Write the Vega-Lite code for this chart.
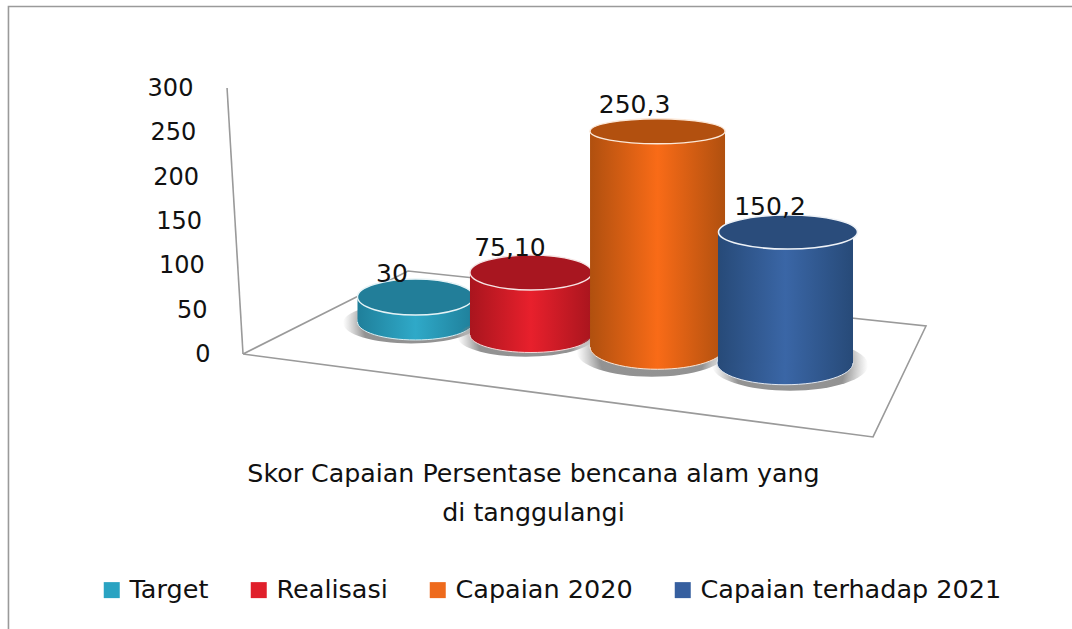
{
"$schema":"https://vega.github.io/schema/vega-lite/v6.json",
"width":1072,"height":629,"padding":0,"autosize":{"type":"none"},
"background":"white",
"config":{"view":{"stroke":null},"font":"DejaVu Sans"},
"datasets":{
"main":[
{"series":"Target","value":30,"label":"30"},
{"series":"Realisasi","value":75.1,"label":"75,10"},
{"series":"Capaian 2020","value":250.3,"label":"250,3"},
{"series":"Capaian terhadap 2021","value":150.2,"label":"150,2"}],
"frame":[
{"part":"border","across":0.79,"level":-307.9,"order":1},
{"part":"border","across":0.79,"level":391.6,"order":2},
{"part":"border","across":100,"level":391.6,"order":3},
{"part":"wall","across":21.18,"level":300,"order":1},
{"part":"wall","across":22.67,"level":1.1,"order":2},
{"part":"floor","across":22.67,"level":1.1,"order":1},
{"part":"floor","across":38.06,"level":94.4,"order":2},
{"part":"floor","across":86.38,"level":32.6,"order":3},
{"part":"floor","across":81.44,"level":-92.1,"order":4},
{"part":"floor","across":22.67,"level":1.1,"order":5}]
},
"resolve":{"scale":{"x":"independent"}},
"encoding":{
"x":{"field":"series","type":"nominal","sort":null,
"scale":{"type":"point","padding":0,"domain":["Target","Realisasi","Capaian 2020","Capaian terhadap 2021"],"range":[415.5,788]},
"axis":null},
"y":{"field":"value","type":"quantitative",
"scale":{"domain":[-307.9,398.9],"nice":false,"zero":false},
"axis":{"title":null,"domain":false,"ticks":false,"grid":false,"offset":-215,"values":[0,50,100,150,200,250,300],"labelFont":"DejaVu Sans","labelFontSize":24,"labelColor":"#111111","labelOverlap":false,"labelFlush":false,"labelBaseline":"middle","labelPadding":{"expr":"5+datum.value*0.057"}}}
},
"layer":[
{"data":{"name":"frame"},"mark":{"type":"line","color":"#9a9a9a","strokeWidth":1.6,"interpolate":"linear"},
"encoding":{"x":{"field":"across","type":"quantitative","scale":{"domain":[0,100],"nice":false,"zero":false},"axis":null},
"y":{"field":"level","type":"quantitative"},"detail":{"field":"part"},"order":{"field":"order","type":"quantitative"}}},
{"data":{"name":"main"},"mark":{"type":"point","shape":"square","filled":true,"size":1},
"encoding":{
"x":{"field":"series","type":"nominal","sort":null,
"scale":{"type":"point","padding":0,"domain":["Target","Realisasi","Capaian 2020","Capaian terhadap 2021"],"range":[415.5,788]},
"axis":{"domain":false,"ticks":false,"labels":false,"grid":false,
"title":["Skor Capaian Persentase bencana alam yang","di tanggulangi"],
"titleFont":"DejaVu Sans","titleFontSize":25.3,"titleFontWeight":"normal","titleColor":"#111111","titleLineHeight":39,"titleX":533,"titleY":-148,"titleAlign":"center","titleBaseline":"alphabetic","titleAnchor":null}},
"color":{"field":"series","type":"nominal","sort":null,
"scale":{"domain":["Target","Realisasi","Capaian 2020","Capaian terhadap 2021"],"range":["#2aa3c2","#e01f2b","#ee6a1c","#365f9f"]},
"legend":{"orient":"none","legendX":99,"legendY":577,"direction":"horizontal","columns":4,"title":null,"symbolType":"square","symbolSize":256,"symbolStrokeWidth":0,"symbolOpacity":1,"labelFont":"DejaVu Sans","labelFontSize":25.5,"labelColor":"#111111","labelOffset":5,"columnPadding":37,"labelLimit":400,"padding":0}}}},

{"data":{"name":"main"},"transform":[{"filter":"datum.series=='Target'"}],"layer":[
{"mark":{"type":"point","filled":true,"opacity":1,"shape":"M-1,0A1,0.3 0 1 0 1,0A1,0.3 0 1 0 -1,0Z","size":18496,"xOffset":-4.5,"yOffset":-32,"fill":{"gradient":"radial","stops":[{"offset":0,"color":"rgba(110,110,110,0.75)"},{"offset":0.7,"color":"rgba(110,110,110,0.75)"},{"offset":1,"color":"rgba(140,140,140,0)"}]}},"encoding":{"y":{"datum":0,"type":"quantitative"}}},
{"mark":{"type":"point","filled":true,"opacity":1,"shape":"M-1,0A1,0.31 0 1 0 1,0A1,0.31 0 1 0 -1,0Z","size":13456,"yOffset":-33,"stroke":"#d8eef3","strokeWidth":1,"fill":{"gradient":"linear","x1":0,"x2":1,"y1":0,"y2":0,"stops":[{"offset":0,"color":"#1f7f9a"},{"offset":0.5,"color":"#2fa9c8"},{"offset":1,"color":"#1f7f9a"}]}},"encoding":{"y":{"datum":0,"type":"quantitative"}}},
{"mark":{"type":"bar","size":116,"yOffset":-31.3,"y2Offset":-33,"fill":{"gradient":"linear","x1":0,"x2":1,"y1":0,"y2":0,"stops":[{"offset":0,"color":"#1f7f9a"},{"offset":0.5,"color":"#2fa9c8"},{"offset":1,"color":"#1f7f9a"}]}},"encoding":{"y2":{"datum":0}}},
{"mark":{"type":"point","filled":true,"opacity":1,"shape":"M-1,0A1,0.31 0 1 0 1,0A1,0.31 0 1 0 -1,0Z","size":13456,"yOffset":-31.3,"stroke":"#e6f3f6","strokeWidth":1.4,"fill":"#227e99"}}
]},
{"data":{"name":"main"},"transform":[{"filter":"datum.series=='Realisasi'"}],"layer":[
{"mark":{"type":"point","filled":true,"opacity":1,"shape":"M-1,0A1,0.29 0 1 0 1,0A1,0.29 0 1 0 -1,0Z","size":18496,"xOffset":-14,"yOffset":-18,"fill":{"gradient":"radial","stops":[{"offset":0,"color":"rgba(110,110,110,0.75)"},{"offset":0.7,"color":"rgba(110,110,110,0.75)"},{"offset":1,"color":"rgba(140,140,140,0)"}]}},"encoding":{"y":{"datum":0,"type":"quantitative"}}},
{"mark":{"type":"point","filled":true,"opacity":1,"shape":"M-1,0A1,0.287 0 1 0 1,0A1,0.287 0 1 0 -1,0Z","size":14884,"xOffset":-8.7,"yOffset":-20,"stroke":"#f6dcdc","strokeWidth":1,"fill":{"gradient":"linear","x1":0,"x2":1,"y1":0,"y2":0,"stops":[{"offset":0,"color":"#a9151e"},{"offset":0.5,"color":"#e8202c"},{"offset":1,"color":"#a9151e"}]}},"encoding":{"y":{"datum":0,"type":"quantitative"}}},
{"mark":{"type":"bar","size":122,"xOffset":-8.7,"yOffset":-15.7,"y2Offset":-20,"fill":{"gradient":"linear","x1":0,"x2":1,"y1":0,"y2":0,"stops":[{"offset":0,"color":"#a9151e"},{"offset":0.5,"color":"#e8202c"},{"offset":1,"color":"#a9151e"}]}},"encoding":{"y2":{"datum":0}}},
{"mark":{"type":"point","filled":true,"opacity":1,"shape":"M-1,0A1,0.287 0 1 0 1,0A1,0.287 0 1 0 -1,0Z","size":14884,"xOffset":-8.7,"yOffset":-15.7,"stroke":"#f6e4e4","strokeWidth":1.4,"fill":"#a81620"}}
]},
{"data":{"name":"main"},"transform":[{"filter":"datum.series=='Capaian 2020'"}],"layer":[
{"mark":{"type":"point","filled":true,"opacity":1,"shape":"M-1,0A1,0.33 0 1 0 1,0A1,0.33 0 1 0 -1,0Z","size":22500,"xOffset":-12,"yOffset":-3,"fill":{"gradient":"radial","stops":[{"offset":0,"color":"rgba(110,110,110,0.75)"},{"offset":0.7,"color":"rgba(110,110,110,0.75)"},{"offset":1,"color":"rgba(140,140,140,0)"}]}},"encoding":{"y":{"datum":0,"type":"quantitative"}}},
{"mark":{"type":"point","filled":true,"opacity":1,"shape":"M-1,0A1,0.33 0 1 0 1,0A1,0.33 0 1 0 -1,0Z","size":18225,"xOffset":-6.3,"yOffset":-8,"stroke":"#fbe6d6","strokeWidth":1,"fill":{"gradient":"linear","x1":0,"x2":1,"y1":0,"y2":0,"stops":[{"offset":0,"color":"#b0500f"},{"offset":0.5,"color":"#f96b17"},{"offset":1,"color":"#b0500f"}]}},"encoding":{"y":{"datum":0,"type":"quantitative"}}},
{"mark":{"type":"bar","size":135,"xOffset":-6.3,"yOffset":-1,"y2Offset":-8,"fill":{"gradient":"linear","x1":0,"x2":1,"y1":0,"y2":0,"stops":[{"offset":0,"color":"#b0500f"},{"offset":0.5,"color":"#f96b17"},{"offset":1,"color":"#b0500f"}]}},"encoding":{"y2":{"datum":0}}},
{"mark":{"type":"point","filled":true,"opacity":1,"shape":"M-1,0A1,0.185 0 1 0 1,0A1,0.185 0 1 0 -1,0Z","size":18225,"xOffset":-6.3,"yOffset":-1,"stroke":"#fbe8d8","strokeWidth":1.4,"fill":"#b2500f"}}
]},
{"data":{"name":"main"},"transform":[{"filter":"datum.series=='Capaian terhadap 2021'"}],"layer":[
{"mark":{"type":"point","filled":true,"opacity":1,"shape":"M-1,0A1,0.33 0 1 0 1,0A1,0.33 0 1 0 -1,0Z","size":24336,"xOffset":2,"yOffset":10,"fill":{"gradient":"radial","stops":[{"offset":0,"color":"rgba(110,110,110,0.75)"},{"offset":0.7,"color":"rgba(110,110,110,0.75)"},{"offset":1,"color":"rgba(140,140,140,0)"}]}},"encoding":{"y":{"datum":0,"type":"quantitative"}}},
{"mark":{"type":"point","filled":true,"opacity":1,"shape":"M-1,0A1,0.32 0 1 0 1,0A1,0.32 0 1 0 -1,0Z","size":18496,"xOffset":-3,"yOffset":8,"stroke":"#e3e9f2","strokeWidth":1,"fill":{"gradient":"linear","x1":0,"x2":1,"y1":0,"y2":0,"stops":[{"offset":0,"color":"#274a78"},{"offset":0.5,"color":"#3a66a6"},{"offset":1,"color":"#274a78"}]}},"encoding":{"y":{"datum":0,"type":"quantitative"}}},
{"mark":{"type":"bar","size":135,"xOffset":-2.5,"yOffset":10.7,"y2Offset":8,"fill":{"gradient":"linear","x1":0,"x2":1,"y1":0,"y2":0,"stops":[{"offset":0,"color":"#274a78"},{"offset":0.5,"color":"#3a66a6"},{"offset":1,"color":"#274a78"}]}},"encoding":{"y2":{"datum":0}}},
{"mark":{"type":"point","filled":true,"opacity":1,"shape":"M-1,0A1,0.245 0 1 0 1,0A1,0.245 0 1 0 -1,0Z","size":19321,"yOffset":10.7,"stroke":"#eef2f7","strokeWidth":1.6,"fill":"#2a4c7b"}}
]},

{"data":{"name":"main"},"transform":[{"filter":"datum.series=='Target'"}],"mark":{"type":"text","font":"DejaVu Sans","fontSize":25,"color":"#111111","dx":-23.5,"dy":-54,"baseline":"middle"},"encoding":{"text":{"field":"label"}}},
{"data":{"name":"main"},"transform":[{"filter":"datum.series=='Realisasi'"}],"mark":{"type":"text","font":"DejaVu Sans","fontSize":25,"color":"#111111","dx":-29.7,"dy":-40,"baseline":"middle"},"encoding":{"text":{"field":"label"}}},
{"data":{"name":"main"},"transform":[{"filter":"datum.series=='Capaian 2020'"}],"mark":{"type":"text","font":"DejaVu Sans","fontSize":25,"color":"#111111","dx":-29.3,"dy":-27,"baseline":"middle"},"encoding":{"text":{"field":"label"}}},
{"data":{"name":"main"},"transform":[{"filter":"datum.series=='Capaian terhadap 2021'"}],"mark":{"type":"text","font":"DejaVu Sans","fontSize":25,"color":"#111111","dx":-18,"dy":-14,"baseline":"middle"},"encoding":{"text":{"field":"label"}}}
]
}
